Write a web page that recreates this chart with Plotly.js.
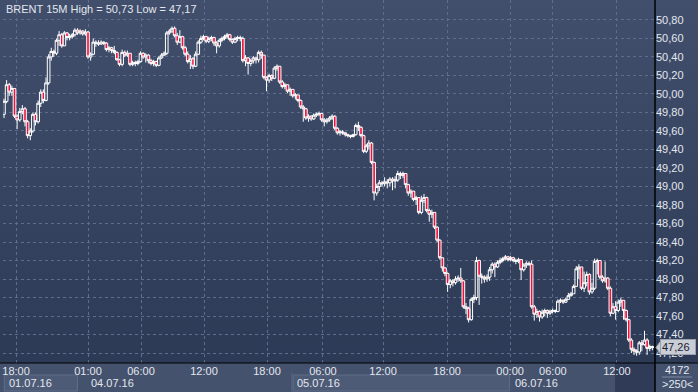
<!DOCTYPE html>
<html>
<head>
<meta charset="utf-8">
<script src="https://cdn.plot.ly/plotly-3.0.1.min.js"></script>
<style>
html,body{margin:0;padding:0;width:698px;height:392px;overflow:hidden;}
body{background:linear-gradient(to bottom,#414f6c 0px,#2c3a56 363px,#45526d 363px,#45526d 392px);}
#chart{width:698px;height:392px;}
</style>
</head>
<body>
<div id="chart"></div>
<script>
// 15-minute BRENT bars (bar index 0..247)
const firstOpen = 49.78;
const closes = [49.92,50.10,50.02,50.06,49.76,49.72,49.81,49.84,49.70,49.55,49.60,49.78,49.70,49.90,50.02,49.93,50.12,50.40,50.46,50.44,
50.58,50.64,50.52,50.66,50.61,50.62,50.64,50.69,50.66,50.68,50.65,50.67,50.40,50.43,50.56,50.55,50.54,50.56,50.55,50.48,
50.50,50.47,50.45,50.37,50.32,50.45,50.42,50.44,50.32,50.34,50.33,50.35,50.44,50.40,50.42,50.36,50.33,50.35,50.31,50.39,
50.42,50.44,50.66,50.68,50.71,50.63,50.56,50.62,50.50,50.43,50.35,50.38,50.30,50.43,50.56,50.60,50.62,50.57,50.60,50.61,
50.55,50.52,50.58,50.60,50.62,50.64,50.59,50.56,50.60,50.61,50.60,50.36,50.39,50.33,50.36,50.39,50.37,50.45,50.42,50.18,
50.15,50.20,50.17,50.28,50.30,50.13,50.08,50.10,50.03,50.05,49.98,49.99,49.93,49.86,49.84,49.74,49.76,49.73,49.77,49.78,
49.79,49.72,49.70,49.72,49.74,49.76,49.63,49.58,49.59,49.58,49.56,49.55,49.54,49.56,49.66,49.64,49.55,49.38,49.44,49.47,
49.26,48.93,49.00,49.04,49.03,49.05,49.04,49.08,49.06,49.07,49.14,49.12,49.14,49.02,48.93,48.95,48.86,48.88,48.72,48.85,
48.88,48.74,48.70,48.72,48.56,48.42,48.23,48.12,48.06,47.94,47.98,47.96,48.00,48.01,47.98,47.70,47.68,47.56,47.78,47.80,
48.20,48.03,48.02,48.00,48.02,48.10,48.16,48.13,48.18,48.20,48.22,48.24,48.21,48.23,48.20,48.19,48.21,48.10,48.15,48.17,
48.16,47.70,47.62,47.65,47.59,47.64,47.66,47.63,47.65,47.66,47.65,47.76,47.77,47.75,47.78,47.82,47.84,47.92,48.11,48.13,
47.90,47.96,48.05,47.86,47.90,48.19,48.20,48.02,47.98,48.01,47.90,47.63,47.70,47.66,47.75,47.77,47.66,47.56,47.34,47.24,
47.22,47.21,47.31,47.29,47.34,47.25,47.27,47.26];
const highs = [49.95,50.15,50.12,50.09,50.06,49.78,49.85,49.88,49.86,49.72,49.63,49.80,49.80,49.93,50.05,50.05,50.18,50.43,50.50,50.48,
50.60,50.68,50.66,50.68,50.67,50.65,50.66,50.71,50.71,50.70,50.69,50.70,50.68,50.45,50.60,50.58,50.58,50.58,50.57,50.56,
50.52,50.51,50.52,50.46,50.38,50.48,50.47,50.47,50.44,50.36,50.36,50.37,50.46,50.45,50.44,50.43,50.38,50.37,50.36,50.41,
50.44,50.46,50.68,50.70,50.73,50.73,50.66,50.69,50.63,50.52,50.46,50.42,50.40,50.46,50.58,50.63,50.64,50.63,50.62,50.63,
50.62,50.57,50.60,50.62,50.64,50.66,50.65,50.60,50.62,50.63,50.63,50.62,50.42,50.40,50.38,50.41,50.40,50.47,50.47,50.42,
50.19,50.22,50.21,50.30,50.32,50.30,50.15,50.12,50.10,50.07,50.05,50.01,49.99,49.94,49.88,49.85,49.78,49.77,49.79,49.80,
49.81,49.79,49.74,49.74,49.76,49.78,49.77,49.64,49.61,49.61,49.59,49.57,49.56,49.57,49.68,49.70,49.65,49.56,49.46,49.50,
49.48,49.27,49.03,49.07,49.06,49.10,49.08,49.10,49.10,49.11,49.17,49.16,49.16,49.14,49.03,48.97,48.95,48.90,48.88,48.90,
48.92,48.89,48.76,48.75,48.72,48.57,48.43,48.23,48.13,48.07,48.00,48.00,48.03,48.04,48.12,47.99,47.74,47.70,47.80,47.83,
48.24,48.21,48.06,48.04,48.05,48.13,48.18,48.18,48.20,48.23,48.24,48.26,48.25,48.25,48.24,48.22,48.23,48.20,48.17,48.19,
48.19,48.20,47.72,47.68,47.66,47.67,47.68,47.67,47.67,47.68,47.67,47.78,47.79,47.78,47.80,47.85,47.86,47.94,48.14,48.16,
48.12,48.08,48.08,48.06,47.96,48.22,48.22,48.20,48.04,48.19,48.02,47.92,47.74,47.76,47.78,47.80,47.77,47.67,47.57,47.36,
47.26,47.24,47.33,47.34,47.44,47.36,47.29,47.28];
const lows = [49.74,49.90,49.98,49.98,49.74,49.62,49.70,49.78,49.65,49.52,49.50,49.58,49.66,49.68,49.86,49.90,49.92,50.10,50.36,50.40,
50.42,50.52,50.50,50.52,50.58,50.58,50.60,50.62,50.64,50.64,50.63,50.63,50.38,50.36,50.42,50.51,50.52,50.53,50.53,50.46,
50.45,50.44,50.43,50.36,50.30,50.30,50.40,50.40,50.30,50.30,50.30,50.31,50.34,50.38,50.34,50.33,50.31,50.30,50.29,50.30,
50.38,50.41,50.42,50.64,50.66,50.61,50.53,50.55,50.48,50.41,50.33,50.27,50.27,50.29,50.42,50.54,50.58,50.55,50.55,50.57,
50.52,50.44,50.50,50.56,50.58,50.60,50.57,50.54,50.55,50.57,50.57,50.34,50.30,50.21,50.30,50.33,50.33,50.34,50.38,50.16,
50.03,50.12,50.14,50.16,50.25,50.11,50.06,50.05,50.01,49.98,49.96,49.94,49.91,49.84,49.70,49.72,49.70,49.71,49.72,49.75,
49.76,49.70,49.65,49.68,49.70,49.72,49.61,49.56,49.55,49.56,49.54,49.53,49.52,49.53,49.55,49.60,49.53,49.36,49.36,49.40,
49.24,48.85,48.90,48.95,49.00,49.00,48.98,49.00,48.96,48.98,49.05,49.08,49.09,48.98,48.90,48.88,48.84,48.80,48.70,48.70,
48.82,48.72,48.62,48.66,48.54,48.40,48.21,48.08,48.03,47.86,47.90,47.92,47.94,47.97,47.96,47.68,47.62,47.53,47.55,47.74,
47.77,47.72,47.95,47.96,47.97,47.98,48.06,48.02,48.12,48.16,48.18,48.20,48.19,48.19,48.18,48.16,48.17,47.99,48.08,48.12,
48.14,47.68,47.55,47.58,47.54,47.57,47.60,47.58,47.61,47.63,47.63,47.64,47.74,47.73,47.74,47.78,47.81,47.84,47.92,48.00,
47.88,47.86,47.92,47.83,47.84,47.88,48.05,48.00,47.96,47.96,47.88,47.60,47.62,47.56,47.64,47.70,47.56,47.54,47.32,47.20,
47.18,47.17,47.18,47.22,47.28,47.18,47.22,47.23];

// time axis labels (bar positions) and day labels
const timeTickPos = [4.6, 32, 52.2, 76.2, 100.2, 121.5, 144.4, 168.8, 192.8, 209.1, 233.5];
const timeTickText = ['18:00','01:00','06:00','12:00','18:00','06:00','12:00','18:00','00:00','06:00','12:00'];
const dayLabels = ['01.07.16','04.07.16','05.07.16','06.07.16'];
const dayStartPos = [-0.4, 31.2, 109.7, 192.8];
const dayEndPos = [28.2, 109.7, 192.8, 232.8];
const priceTicks = [47.2,47.4,47.6,47.8,48.0,48.2,48.4,48.6,48.8,49.0,49.2,49.4,49.6,49.8,50.0,50.2,50.4,50.6,50.8];
const titleText = 'BRENT 15M High = 50,73 Low = 47,17';
const lastPrice = 47.26;
const barCountText = '4172';
const visibleText = '>250<';

const idx = closes.map((_, i) => i);
const opens = closes.map((c, i) => i === 0 ? firstOpen : closes[i - 1]);
const hi = highs.map((h, i) => Math.max(h, opens[i], closes[i]));
const lo = lows.map((l, i) => Math.min(l, opens[i], closes[i]));

const trace = {
  type: 'candlestick', x: idx, open: opens, high: hi, low: lo, close: closes,
  increasing: {line: {color: '#ffffff', width: 1}, fillcolor: 'rgba(0,0,0,0)'},
  decreasing: {line: {color: '#ffffff', width: 1}, fillcolor: '#f0103c'},
  whiskerwidth: 0, hoverinfo: 'skip', showlegend: false
};

const txt = '#e3e7ef';
const FONT = 'Liberation Sans, Arial, sans-serif';
const W = 698, H = 392, ml = 3, mr = 43, mt = 0, mb = 29;
const plotH = H - mt - mb, plotW = W - ml - mr;
const py = px => (H - mb - px) / plotH;   // pixel y -> paper y
const pxx = px => (px - ml) / plotW;      // pixel x -> paper x

const shapes = [];
// shaded day boxes in date row (alternating)
[0, 2].forEach(k => {
  shapes.push({type: 'rect', xref: 'x', yref: 'paper', x0: dayStartPos[k] + 0.5, x1: dayEndPos[k] - 0.2,
    y0: py(391), y1: py(375), fillcolor: '#4e5b77', line: {color: '#5f6c88', width: 1}, layer: 'below'});
});
// dark block bottom right
shapes.push({type: 'rect', xref: 'paper', yref: 'paper', x0: pxx(615), x1: 1, y0: py(392), y1: py(363),
  fillcolor: '#2f3b57', line: {width: 0}, layer: 'below'});
// day separator line in date row
shapes.push({type: 'line', xref: 'x', yref: 'paper', x0: dayStartPos[2], x1: dayStartPos[2], y0: py(392), y1: py(373),
  line: {color: '#5d6a86', width: 1}});
// axis frame lines
shapes.push({type: 'line', xref: 'paper', yref: 'paper', x0: pxx(0), x1: pxx(698), y0: 0, y1: 0, line: {color: '#000000', width: 1}});
shapes.push({type: 'line', xref: 'paper', yref: 'paper', x0: 1, x1: 1, y0: py(392), y1: 1, line: {color: '#000000', width: 1.5}});
// separator under bar count
shapes.push({type: 'line', xref: 'paper', yref: 'paper', x0: pxx(662), x1: pxx(692), y0: py(377), y1: py(377), line: {color: '#7d8aa3', width: 1}});
// last price tag arrow
shapes.push({type: 'path', xref: 'paper', yref: 'y',
  path: 'M ' + pxx(656) + ' ' + lastPrice + ' L ' + pxx(661) + ' ' + (lastPrice + 0.075) + ' L ' + pxx(661) + ' ' + (lastPrice - 0.075) + ' Z',
  fillcolor: '#c9cdd5', line: {color: '#9aa0ab', width: 1}});

const annotations = [];
annotations.push({xref: 'paper', yref: 'paper', x: pxx(4), y: py(1), xanchor: 'left', yanchor: 'top', showarrow: false,
  text: titleText, font: {family: FONT, size: 11, color: txt}});
dayLabels.forEach((d, k) => {
  annotations.push({xref: 'x', yref: 'paper', x: dayStartPos[k] + (k === 0 ? 1.4 : 1.0), y: py(383), xanchor: 'left', yanchor: 'middle',
    showarrow: false, text: d, font: {family: FONT, size: 11, color: txt}});
});
annotations.push({xref: 'paper', yref: 'paper', x: pxx(677), y: py(370), xanchor: 'center', yanchor: 'middle', showarrow: false,
  text: barCountText, font: {family: FONT, size: 11, color: txt}});
annotations.push({xref: 'paper', yref: 'paper', x: pxx(677), y: py(384), xanchor: 'center', yanchor: 'middle', showarrow: false,
  text: visibleText.replace('<', '&lt;').replace('>', '&gt;'), font: {family: FONT, size: 11, color: txt}});
annotations.push({xref: 'paper', yref: 'y', x: pxx(660), y: lastPrice, xanchor: 'left', yanchor: 'middle', showarrow: false,
  text: String(lastPrice.toFixed(2)).replace('.', ','), bgcolor: '#c9cdd5', bordercolor: '#9aa0ab', borderwidth: 1, borderpad: 1,
  width: 32, align: 'left',
  font: {family: FONT, size: 11, color: '#1a2030'}});

const layout = {
  width: W, height: H, margin: {l: ml, r: mr, t: mt, b: mb, pad: 0},
  paper_bgcolor: 'rgba(0,0,0,0)', plot_bgcolor: 'rgba(0,0,0,0)',
  separators: ', ',
  showlegend: false,
  boxgap: 0, boxgroupgap: 0,
  xaxis: {type: 'linear', range: [-0.38, 248.0], rangeslider: {visible: false}, fixedrange: true,
    tickmode: 'array', tickvals: timeTickPos, ticktext: timeTickText, ticks: '', ticklen: 0,
    showgrid: true, gridcolor: '#5e6d8c', griddash: '3px,3px', gridwidth: 1, zeroline: false, showline: false,
    tickfont: {family: FONT, size: 11, color: txt}},
  yaxis: {side: 'right', range: [47.092, 51.016], fixedrange: true, tickmode: 'array', tickvals: priceTicks,
    tickformat: '.2f', ticks: '', ticklen: 3, tickcolor: 'rgba(0,0,0,0)', showgrid: true, gridcolor: '#5e6d8c', griddash: '3px,3px', gridwidth: 1,
    zeroline: false, showline: false,
    tickfont: {family: FONT, size: 11, color: txt}},
  shapes: shapes,
  annotations: annotations
};

Plotly.newPlot('chart', [trace], layout, {staticPlot: true, displayModeBar: false});
</script>
</body>
</html>
